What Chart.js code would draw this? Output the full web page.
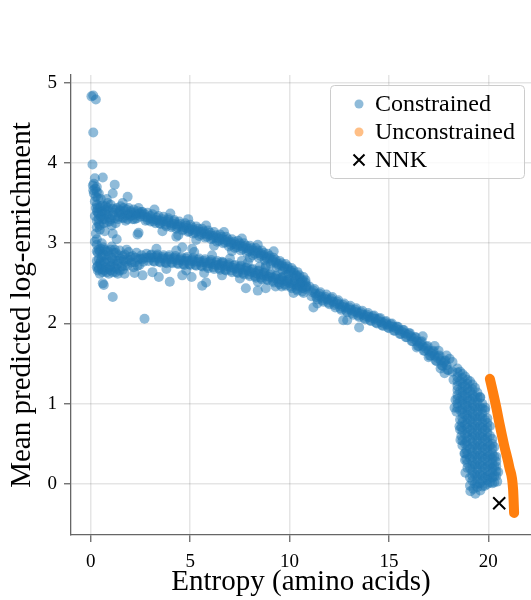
<!DOCTYPE html>
<html>
<head>
<meta charset="utf-8">
<script src="https://cdn.jsdelivr.net/npm/chart.js@4.4.0/dist/chart.umd.min.js"></script>
<style>
  html, body { margin: 0; padding: 0; background: #fff; }
</style>
</head>
<body>
<canvas id="chart" width="531" height="600"></canvas>
<script>
// values: [entropy, mean predicted log-enrichment]
const peakPoints = [
  [0.03,4.83],[0.12,4.84],[0.25,4.79],[0.12,4.38],[0.08,3.98],[0.2,3.81],[0.6,3.82],[0.15,3.74],
  [0.3,3.70],[0.12,3.66],[0.4,3.62],[0.25,3.58],[0.5,3.55],[1.2,3.73],[1.1,3.62],[1.85,3.58],
  [0.8,3.55],[1.1,3.12],[0.45,3.17],[2.4,3.13],[2.35,3.11],[1.3,3.05],[0.7,3.15],[0.3,3.05],
  [0.25,3.12],[0.3,3.2],[0.2,3.02],[4.3,3.08],[4.6,2.95],[5.1,2.93],[0.6,2.5],[0.65,2.48],
  [1.1,2.33],[2.7,2.06],[3.97,2.52],[3.42,2.58],[5.07,2.58],[5.6,2.47],[6.6,2.77],[7.6,2.78],
  [7.8,2.44],[8.4,2.41],[8.5,2.71],[1.7,2.62],[2.2,2.63],[2.6,2.6],[3.1,2.64],[4.6,2.6],
  [8.8,2.44],[11.2,2.2],[11.4,2.25],[12.7,2.04],[13.5,1.95],[12.9,2.04],[9.6,2.46],[5.8,2.51],
  [0.15,3.62],[0.22,3.68],[0.1,3.72],[0.3,3.64],[0.35,3.56],[0.2,3.52]
];
const upperBand = [
  [0.3,3.48],[0.35,3.38],[0.3,3.28],[0.45,3.44],[0.5,3.33],[0.6,3.47],[0.65,3.25],[0.7,3.38],
  [0.85,3.44],[0.9,3.32],[1.0,3.48],[1.05,3.22],[1.15,3.38],[1.3,3.44],[1.35,3.30],[1.5,3.46],
  [1.55,3.36],[1.7,3.40],[1.75,3.28],[1.9,3.44],[2.0,3.34],[2.15,3.42],[2.2,3.30],[2.35,3.40],
  [2.5,3.33],[2.6,3.39],[2.75,3.28],[2.85,3.38],[3.0,3.27],[3.1,3.36],[3.25,3.25],[3.4,3.34],
  [3.5,3.24],[3.65,3.33],[3.8,3.21],[3.9,3.31],[4.05,3.20],[4.2,3.29],[4.3,3.18],[4.45,3.27],
  [4.6,3.16],[4.75,3.25],[4.9,3.14],[5.0,3.23],[5.15,3.12],[5.3,3.21],[5.45,3.09],[5.6,3.18],
  [5.75,3.07],[5.9,3.16],[6.05,3.05],[6.2,3.14],[6.35,3.02],[6.5,3.11],[6.65,3.00],[6.8,3.08],
  [6.95,2.96],[7.1,3.05],[7.25,2.94],[7.4,3.03],[7.55,2.91],[7.7,3.00],[7.85,2.88],[8.0,2.97],
  [8.15,2.85],[8.3,2.94],[8.45,2.82],[8.6,2.91],[8.75,2.79],[8.9,2.87],[9.05,2.74],[9.2,2.82],
  [9.35,2.70],[9.5,2.78],[9.65,2.66],[9.8,2.74],[9.95,2.62],[10.1,2.69],[10.25,2.57],[10.4,2.64],
  [10.55,2.51],[10.7,2.58],[10.85,2.45]
];
const upperCore = [
  [0.4,3.36],[0.55,3.40],[0.8,3.36],[1.2,3.31],[1.4,3.38],[1.6,3.32],[1.9,3.36],[2.05,3.38],
  [2.3,3.35],[2.45,3.37],[2.7,3.33],[3.0,3.31],[3.3,3.29],[3.6,3.27],[3.9,3.26],[4.2,3.24],
  [4.5,3.21],[4.8,3.19],[5.1,3.17],[5.4,3.15],[5.7,3.12],[6.0,3.10],[6.3,3.07],[6.6,3.05],
  [6.9,3.02],[7.2,2.99],[7.5,2.97],[7.8,2.94],[8.1,2.91],[8.4,2.88],[8.7,2.85],[9.0,2.81],
  [9.3,2.76],[9.6,2.72],[9.9,2.68],[10.2,2.63],[10.5,2.57],[10.8,2.51],
  [0.35,3.44],[0.75,3.42],[1.1,3.43],[1.45,3.41],[1.8,3.35],[2.25,3.37],[2.55,3.36],[0.6,3.30],
  [0.95,3.27],[1.25,3.25],[1.65,3.31],[2.1,3.30],[0.4,3.24],[0.85,3.50],[1.6,3.50],
  [2.85,3.32],[3.15,3.30],[3.45,3.28],[3.75,3.27],[4.05,3.25],[4.35,3.23],[4.65,3.20],[4.95,3.18],
  [5.25,3.16],[5.55,3.14],[5.85,3.11],[6.15,3.09],[6.45,3.06],[6.75,3.04],[7.05,3.01],[7.35,2.98],
  [7.65,2.96],[7.95,2.93],[8.25,2.90],[8.55,2.87],[8.85,2.83],[9.15,2.79],[9.45,2.74],[9.75,2.70],
  [10.05,2.66],[10.35,2.60],[10.65,2.54]
];
const upperExtra = [
  [0.3,3.40],[0.4,3.30],[0.5,3.46],[0.55,3.36],[0.7,3.30],[0.75,3.46],[0.9,3.40],[1.0,3.30],
  [1.1,3.35],[1.25,3.42],[1.4,3.33],[1.5,3.40],[1.65,3.44],[1.8,3.42],[1.85,3.30],[2.0,3.40],
  [2.1,3.35],[2.3,3.31],[2.4,3.44],[2.55,3.39],[0.45,3.22],[0.8,3.26],[0.2,3.34],[0.25,3.44],
  [2.7,3.36],[3.0,3.34],[3.3,3.32],[3.6,3.30],[3.9,3.29],[4.2,3.27],[4.5,3.24],[4.8,3.22],
  [5.1,3.20],[5.4,3.18],[5.7,3.15],[6.0,3.13],[6.3,3.10],[6.6,3.08],[6.9,3.05],[7.2,3.02],
  [7.5,3.00],[7.8,2.97],[8.1,2.94],[8.4,2.91],[8.7,2.88],[9.0,2.84],[9.3,2.79],[9.6,2.75],
  [9.9,2.71],[10.2,2.66],[10.5,2.60],[10.8,2.54],
  [2.85,3.29],[3.15,3.27],[3.45,3.25],[3.75,3.23],[4.05,3.22],[4.35,3.20],[4.65,3.17],[4.95,3.15],
  [5.25,3.13],[5.55,3.11],[5.85,3.08],[6.15,3.06],[6.45,3.03],[6.75,3.01],[7.05,2.98],[7.35,2.95],
  [7.65,2.93],[7.95,2.90],[8.25,2.87],[8.55,2.84],[8.85,2.81],[9.15,2.77],[9.45,2.72],[9.75,2.68],
  [10.05,2.64],[10.35,2.59],[10.65,2.52]
];
const lowerBand = [
  [0.3,2.98],[0.35,2.88],[0.3,2.78],[0.4,2.68],[0.5,2.93],[0.55,2.83],[0.5,2.73],[0.6,2.64],
  [0.75,2.90],[0.8,2.80],[0.75,2.70],[0.9,2.62],[1.0,2.92],[1.05,2.82],[1.0,2.72],[1.1,2.64],
  [1.25,2.88],[1.3,2.78],[1.3,2.68],[1.45,2.91],[1.5,2.81],[1.55,2.71],[1.7,2.86],[1.75,2.77],
  [1.9,2.89],[1.95,2.79],[2.1,2.84],[2.2,2.76],[2.3,2.88],[2.4,2.80],[2.55,2.85],[2.65,2.77],
  [2.8,2.87],[2.9,2.78],[3.05,2.86],[3.2,2.77],[3.35,2.86],[3.5,2.76],[3.65,2.85],[3.8,2.75],
  [3.95,2.85],[4.1,2.75],[4.25,2.84],[4.4,2.74],[4.55,2.83],[4.7,2.73],[4.85,2.83],[5.0,2.73],
  [5.15,2.82],[5.3,2.72],[5.45,2.81],[5.6,2.71],[5.75,2.80],[5.9,2.69],[6.05,2.79],[6.2,2.68],
  [6.35,2.78],[6.5,2.67],[6.65,2.76],[6.8,2.66],[6.95,2.75],[7.1,2.64],[7.25,2.73],[7.4,2.63],
  [7.55,2.72],[7.7,2.61],[7.85,2.70],[8.0,2.59],[8.15,2.68],[8.3,2.57],[8.45,2.66],[8.6,2.55],
  [8.75,2.64],[8.9,2.54],[9.05,2.62],[9.2,2.51],[9.35,2.60],[9.5,2.49],[9.65,2.58],[9.8,2.47],
  [9.95,2.55],[10.1,2.44],[10.25,2.53],[10.4,2.41],[10.55,2.50],[10.7,2.38],[10.85,2.47]
];
const lowerCore = [
  [0.4,2.80],[0.45,2.90],[0.6,2.95],[0.65,2.77],[0.85,2.68],[0.9,2.85],[1.15,2.75],[1.2,2.70],
  [1.4,2.85],[1.65,2.79],[2.0,2.83],[2.5,2.81],[2.85,2.82],[3.15,2.82],[3.45,2.81],[3.75,2.80],
  [4.05,2.80],[4.35,2.79],[4.65,2.78],[4.95,2.78],[5.25,2.77],[5.55,2.76],[5.85,2.75],[6.15,2.74],
  [6.45,2.73],[6.75,2.71],[7.05,2.70],[7.35,2.68],[7.65,2.67],[7.95,2.65],[8.25,2.63],[8.55,2.61],
  [8.85,2.59],[9.15,2.57],[9.45,2.55],[9.75,2.53],[10.05,2.50],[10.35,2.47],[10.65,2.44],
  [0.35,2.72],[0.45,2.62],[0.7,2.85],[0.65,2.66],[0.95,2.77],[1.2,2.92],[1.35,2.62],[1.6,2.67],
  [1.85,2.72],[2.15,2.70],[2.45,2.73],[2.7,2.82],[0.55,3.00],[1.05,2.96],[0.4,2.92],[1.8,2.92],
  [3.0,2.82],[3.3,2.82],[3.6,2.81],[3.9,2.80],[4.2,2.80],[4.5,2.79],[4.8,2.78],[5.1,2.78],
  [5.4,2.77],[5.7,2.76],[6.0,2.75],[6.3,2.73],[6.6,2.72],[6.9,2.71],[7.2,2.69],[7.5,2.68],
  [7.8,2.66],[8.1,2.64],[8.4,2.62],[8.7,2.60],[9.0,2.58],[9.3,2.56],[9.6,2.54],[9.9,2.52],
  [10.2,2.49],[10.5,2.46],[10.8,2.43]
];
const lowerExtra = [
  [0.3,2.90],[0.35,2.66],[0.5,2.78],[0.55,2.68],[0.7,2.92],[0.7,2.75],[0.85,2.90],[0.95,2.70],
  [1.1,2.80],[1.15,2.88],[1.35,2.74],[1.45,2.66],[1.6,2.84],[1.7,2.72],[1.85,2.80],[2.05,2.76],
  [2.25,2.82],[2.35,2.72],[2.6,2.80],[0.45,2.75],[0.6,2.86],[0.8,2.64],[1.0,2.66],[1.25,2.64],
  [1.4,2.78],[0.3,2.70],
  [3.0,2.85],[3.3,2.84],[3.6,2.83],[3.9,2.83],[4.2,2.82],[4.5,2.81],[4.8,2.81],[5.1,2.80],
  [5.4,2.79],[5.7,2.78],[6.0,2.77],[6.3,2.76],[6.6,2.75],[6.9,2.73],[7.2,2.72],[7.5,2.70],
  [7.8,2.69],[8.1,2.67],[8.4,2.65],[8.7,2.63],[9.0,2.61],[9.3,2.59],[9.6,2.57],[9.9,2.54],
  [10.2,2.51],[10.5,2.48],[10.8,2.46],
  [3.15,2.78],[3.45,2.77],[3.75,2.76],[4.05,2.76],[4.35,2.75],[4.65,2.74],[4.95,2.74],[5.25,2.73],
  [5.55,2.72],[5.85,2.71],[6.15,2.70],[6.45,2.69],[6.75,2.67],[7.05,2.66],[7.35,2.64],[7.65,2.63],
  [7.95,2.61],[8.25,2.59],[8.55,2.57],[8.85,2.55],[9.15,2.53],[9.45,2.51],[9.75,2.49],[10.05,2.46],
  [10.35,2.43],[10.65,2.40]
];
const bandEdges = [
  [3.2,3.42],[4.0,3.37],[4.9,3.30],[5.8,3.22],[6.7,3.14],[7.6,3.06],[8.4,2.98],[9.2,2.90],
  [3.6,3.15],[4.4,3.10],[5.3,3.04],[6.2,2.97],[7.1,2.90],[8.0,2.82],[8.8,2.72],[9.8,2.60],
  [3.3,2.93],[4.3,2.91],[5.2,2.89],[6.1,2.85],[7.0,2.81],[7.9,2.76],[8.8,2.70],
  [3.8,2.68],[4.8,2.66],[5.7,2.63],[6.6,2.60],[7.5,2.56],[8.4,2.52],[9.3,2.46],[10.2,2.38]
];
const mergedBand = [
  [11.0,2.46],[11.1,2.34],[11.25,2.43],[11.4,2.30],[11.55,2.39],[11.7,2.27],[11.85,2.36],[12.0,2.24],
  [12.15,2.33],[12.3,2.20],[12.45,2.29],[12.6,2.17],[12.75,2.25],[12.9,2.14],[13.05,2.22],[13.2,2.11],
  [13.35,2.19],[13.5,2.08],[13.65,2.16],[13.8,2.05],[13.95,2.13],[14.1,2.03],[14.25,2.10],[14.4,2.00],
  [14.55,2.07],[14.7,1.97],[14.85,2.03],[15.0,1.94],[15.15,2.00],[15.3,1.91],[15.45,1.96],[15.6,1.87],
  [15.75,1.92],[15.9,1.83],[16.05,1.88],[16.2,1.78],[16.35,1.83],[16.5,1.72],[16.65,1.78],[16.8,1.66],
  [16.95,1.72],[17.1,1.60],[17.25,1.66],[17.4,1.53],[17.55,1.60],[17.7,1.47],[17.85,1.54],[18.0,1.42],
  [18.05,1.56]
];
const mergedCore = [
  [11.15,2.39],[11.45,2.35],[11.75,2.31],[12.05,2.29],[12.35,2.25],[12.65,2.21],[12.95,2.18],[13.25,2.15],
  [13.55,2.12],[13.85,2.09],[14.15,2.07],[14.45,2.04],[14.75,2.00],[15.05,1.97],[15.35,1.94],[15.65,1.90],
  [15.95,1.86],[16.25,1.81],[16.55,1.75],[16.85,1.69],[17.15,1.63],[17.45,1.57],[17.75,1.51],
  [16.4,1.70],[16.7,1.84],[17.0,1.58],[17.3,1.72],[17.6,1.44],[17.9,1.60],[17.5,1.66],[17.8,1.38],
  [11.3,2.37],[11.6,2.33],[11.9,2.30],[12.2,2.27],[12.5,2.24],[12.8,2.20],[13.1,2.17],[13.4,2.14],
  [13.7,2.11],[14.0,2.08],[14.3,2.06],[14.6,2.02],[14.9,1.99],[15.2,1.96],[15.5,1.92],[15.8,1.88],
  [16.1,1.84],[16.4,1.78],[16.7,1.72],[17.0,1.66],[17.3,1.60],[17.6,1.54],[17.9,1.48]
];
const mergedExtra = [
  [11.2,2.41],[11.5,2.37],[11.8,2.33],[12.1,2.31],[12.4,2.27],[12.7,2.23],[13.0,2.20],[13.3,2.17],
  [13.6,2.14],[13.9,2.11],[14.2,2.09],[14.5,2.06],[14.8,2.02],[15.1,1.99],[15.4,1.96],[15.7,1.92],
  [16.0,1.88],[16.3,1.83],[16.6,1.77],[16.9,1.71],[17.2,1.65],[17.5,1.59],[17.8,1.53],
  [11.35,2.33],[11.65,2.29],[11.95,2.26],[12.25,2.23],[12.55,2.19],[12.85,2.16],[13.15,2.13],[13.45,2.10],
  [13.75,2.07],[14.05,2.04],[14.35,2.01],[14.65,1.98],[14.95,1.95],[15.25,1.91],[15.55,1.87],[15.85,1.83],
  [16.15,1.78],[16.45,1.72],[16.75,1.66],[17.05,1.60],[17.35,1.54],[17.65,1.48],[17.95,1.42]
];
const tailPoints = [
  [18.2,1.52],[18.2,1.40],[18.25,1.30],
  [18.45,1.44],[18.45,1.33],[18.45,1.22],[18.45,1.11],[18.45,1.00],[18.4,0.90],
  [18.7,1.37],[18.7,1.26],[18.7,1.15],[18.7,1.04],[18.7,0.93],[18.7,0.82],[18.65,0.71],[18.65,0.60],[18.7,0.48],
  [18.95,1.30],[18.95,1.19],[18.95,1.08],[18.95,0.97],[18.95,0.86],[18.95,0.75],[18.95,0.64],[18.9,0.53],
  [18.9,0.42],[18.9,0.31],[18.95,0.20],
  [19.2,1.24],[19.2,1.12],[19.2,1.00],[19.2,0.88],[19.2,0.76],[19.2,0.64],[19.2,0.52],[19.2,0.40],
  [19.2,0.28],[19.2,0.16],[19.2,0.04],[19.25,-0.06],
  [19.45,1.14],[19.45,1.02],[19.45,0.90],[19.45,0.78],[19.45,0.66],[19.45,0.54],[19.45,0.42],[19.45,0.30],
  [19.45,0.18],[19.45,0.06],[19.45,-0.04],
  [19.7,1.00],[19.7,0.88],[19.7,0.76],[19.7,0.64],[19.7,0.52],[19.7,0.40],[19.7,0.28],[19.7,0.16],
  [19.7,0.04],[19.7,-0.03],
  [19.95,0.82],[19.95,0.70],[19.95,0.58],[19.95,0.46],[19.95,0.34],[19.95,0.22],[19.95,0.10],[19.95,0.00],
  [20.2,0.56],[20.2,0.44],[20.2,0.32],[20.2,0.20],[20.2,0.08],[20.2,0.01],
  [20.4,0.34],[20.4,0.22],[20.4,0.10],[20.45,0.03],
  [18.35,1.05],[18.55,0.72],[18.6,0.55],[18.8,0.38],[18.85,0.14],[19.1,-0.09],[19.35,-0.12],[19.6,-0.08],
  [20.5,0.15],[19.85,0.95],[19.6,1.08],[18.3,0.95]
];
const tailFill = [
  [18.58,1.40],[18.58,1.28],[18.58,1.16],[18.58,1.04],[18.58,0.92],[18.58,0.80],[18.58,0.68],
  [18.83,1.34],[18.83,1.22],[18.83,1.10],[18.83,0.98],[18.83,0.86],[18.83,0.74],[18.83,0.62],[18.83,0.50],
  [18.83,0.38],[18.83,0.30],
  [19.08,1.28],[19.08,1.16],[19.08,1.04],[19.08,0.92],[19.08,0.80],[19.08,0.68],[19.08,0.56],[19.08,0.44],
  [19.08,0.32],[19.08,0.20],[19.08,0.08],[19.08,-0.02],
  [19.33,1.20],[19.33,1.08],[19.33,0.96],[19.33,0.84],[19.33,0.72],[19.33,0.60],[19.33,0.48],[19.33,0.36],
  [19.33,0.24],[19.33,0.12],[19.33,0.00],
  [19.58,1.08],[19.58,0.96],[19.58,0.84],[19.58,0.72],[19.58,0.60],[19.58,0.48],[19.58,0.36],[19.58,0.24],
  [19.58,0.12],[19.58,0.01],
  [19.83,0.92],[19.83,0.80],[19.83,0.68],[19.83,0.56],[19.83,0.44],[19.83,0.32],[19.83,0.20],[19.83,0.08],
  [19.83,-0.02],
  [20.08,0.72],[20.08,0.60],[20.08,0.48],[20.08,0.36],[20.08,0.24],[20.08,0.12],[20.08,0.02],
  [20.3,0.46],[20.3,0.34],[20.3,0.22],[20.3,0.10],[20.3,0.02]
];
const tailFill2 = [
  [18.45,1.39],[18.45,1.28],[18.45,1.17],[18.45,1.06],[18.45,0.95],
  [18.7,1.32],[18.7,1.21],[18.7,1.10],[18.7,0.99],[18.7,0.88],[18.7,0.77],[18.7,0.66],[18.7,0.54],
  [18.95,1.25],[18.95,1.14],[18.95,1.03],[18.95,0.92],[18.95,0.81],[18.95,0.70],[18.95,0.59],[18.95,0.48],
  [18.95,0.37],[18.95,0.26],
  [19.2,1.18],[19.2,1.06],[19.2,0.94],[19.2,0.82],[19.2,0.70],[19.2,0.58],[19.2,0.46],[19.2,0.34],
  [19.2,0.22],[19.2,0.10],
  [19.45,1.08],[19.45,0.96],[19.45,0.84],[19.45,0.72],[19.45,0.60],[19.45,0.48],[19.45,0.36],[19.45,0.24],
  [19.45,0.12],[19.45,0.00],
  [19.7,0.94],[19.7,0.82],[19.7,0.70],[19.7,0.58],[19.7,0.46],[19.7,0.34],[19.7,0.22],[19.7,0.10],
  [19.95,0.76],[19.95,0.64],[19.95,0.52],[19.95,0.40],[19.95,0.28],[19.95,0.16],[19.95,0.05],
  [20.2,0.50],[20.2,0.38],[20.2,0.26],[20.2,0.14],
  [20.4,0.28],[20.4,0.16]
];
const unconstrainedX = [20.08, 20.25, 20.4, 20.55, 20.8, 21.06, 21.25, 21.3];
const unconstrainedY = [1.31, 1.13, 0.96, 0.77, 0.48, 0.21, -0.07, -0.36];
const nnkX = [20.55];
const nnkY = [-0.24];
const xTickValues = [0, 5, 10, 15, 20];
const yTickValues = [0, 1, 2, 3, 4, 5];
const legendLabels = ['Constrained', 'Unconstrained', 'NNK'];

const SERIF = '"Liberation Serif", "Times New Roman", serif';
const BLUE = '#1f77b4';
const ORANGE = '#ff7f0e';
const SPINE = '#666666';

const constrained = [
  ...peakPoints, ...upperBand, ...upperCore, ...upperExtra,
  ...lowerBand, ...lowerCore, ...lowerExtra, ...bandEdges,
  ...mergedBand, ...mergedCore, ...mergedExtra, ...tailPoints, ...tailFill, ...tailFill2
].map(([x, y]) => ({ x, y }));
const unconstrained = unconstrainedX.map((x, i) => ({ x, y: unconstrainedY[i] }));
const nnk = nnkX.map((x, i) => ({ x, y: nnkY[i] }));

// matplotlib-style legend box in the upper right corner
const legendBox = {
  id: 'legendBox',
  afterDraw(chart) {
    const { ctx, chartArea } = chart;
    const right = chartArea.right - 7;
    const top = chartArea.top + 10;
    const w = 194, h = 93;
    const left = right - w;
    ctx.save();
    ctx.beginPath();
    ctx.roundRect(left + 0.5, top + 0.5, w, h, 4);
    ctx.fillStyle = 'rgba(255, 255, 255, 0.8)';
    ctx.fill();
    ctx.strokeStyle = '#cccccc';
    ctx.lineWidth = 1;
    ctx.stroke();

    const mx = left + 29;
    const rows = [top + 19, top + 47, top + 75];
    ctx.globalAlpha = 0.5;
    ctx.fillStyle = BLUE;
    ctx.beginPath(); ctx.arc(mx, rows[0], 4.5, 0, Math.PI * 2); ctx.fill();
    ctx.fillStyle = ORANGE;
    ctx.beginPath(); ctx.arc(mx, rows[1], 4.5, 0, Math.PI * 2); ctx.fill();
    ctx.globalAlpha = 1;
    ctx.strokeStyle = '#000';
    ctx.lineWidth = 2;
    ctx.beginPath();
    ctx.moveTo(mx - 5.5, rows[2] - 5.5); ctx.lineTo(mx + 5.5, rows[2] + 5.5);
    ctx.moveTo(mx + 5.5, rows[2] - 5.5); ctx.lineTo(mx - 5.5, rows[2] + 5.5);
    ctx.stroke();

    ctx.fillStyle = '#000';
    ctx.font = '24px ' + SERIF;
    ctx.textAlign = 'left';
    ctx.textBaseline = 'alphabetic';
    legendLabels.forEach((t, i) => ctx.fillText(t, left + 45, rows[i] + 7));
    ctx.restore();
  }
};

new Chart(document.getElementById('chart'), {
  type: 'scatter',
  data: {
    datasets: [
      {
        label: legendLabels[2],
        data: nnk,
        order: 0,
        pointStyle: 'crossRot',
        pointRadius: 8.5,
        borderColor: '#000',
        borderWidth: 2
      },
      {
        label: legendLabels[1],
        data: unconstrained,
        order: 1,
        showLine: true,
        borderColor: ORANGE,
        borderWidth: 10,
        borderCapStyle: 'round',
        borderJoinStyle: 'round',
        cubicInterpolationMode: 'monotone',
        pointRadius: 0
      },
      {
        label: legendLabels[0],
        data: constrained,
        order: 2,
        pointRadius: 5,
        borderWidth: 0,
        backgroundColor: 'rgba(31, 119, 180, 0.5)'
      }
    ]
  },
  options: {
    responsive: false,
    animation: false,
    events: [],
    layout: { autoPadding: false, padding: { top: 75, right: 0, left: 0, bottom: 0 } },
    plugins: {
      legend: { display: false },
      tooltip: { enabled: false }
    },
    scales: {
      x: {
        type: 'linear',
        min: -1.0,
        max: 22.15,
        afterBuildTicks: (s) => { s.ticks = xTickValues.map(v => ({ value: v })); },
        afterFit: (s) => { s.height = 65; s.paddingLeft = 0; s.paddingRight = 0; },
        ticks: {
          color: '#000',
          font: { family: SERIF, size: 19 },
          padding: 9
        },
        grid: {
          color: 'rgba(0, 0, 0, 0.1)',
          lineWidth: 1.5,
          tickColor: SPINE,
          tickLength: 7,
          tickWidth: 1.3
        },
        border: { display: true, color: SPINE, width: 1.3 },
        title: {
          display: true,
          text: 'Entropy (amino acids)',
          color: '#000',
          font: { family: SERIF, size: 29 },
          padding: { top: 0, bottom: 0 }
        }
      },
      y: {
        type: 'linear',
        min: -0.635,
        max: 5.096,
        afterBuildTicks: (s) => { s.ticks = yTickValues.map(v => ({ value: v })); },
        afterFit: (s) => { s.width = 71; s.paddingTop = 0; s.paddingBottom = 0; },
        ticks: {
          color: '#000',
          font: { family: SERIF, size: 19 },
          padding: 7
        },
        grid: {
          color: 'rgba(0, 0, 0, 0.1)',
          lineWidth: 1.5,
          tickColor: SPINE,
          tickLength: 7,
          tickWidth: 1.3
        },
        border: { display: true, color: SPINE, width: 1.3 },
        title: {
          display: true,
          text: 'Mean predicted log-enrichment',
          color: '#000',
          font: { family: SERIF, size: 29 },
          padding: { top: 5, bottom: 0 }
        }
      }
    }
  },
  plugins: [legendBox]
});
</script>
</body>
</html>
